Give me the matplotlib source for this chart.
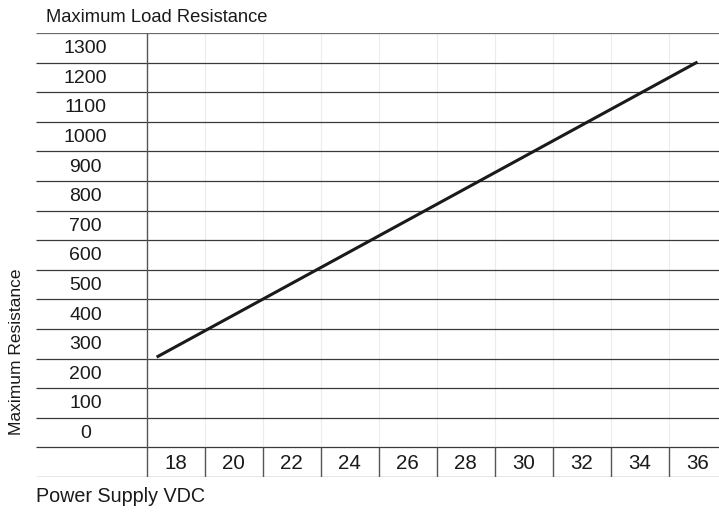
import matplotlib
matplotlib.use("Agg")
import matplotlib.pyplot as plt
import numpy as np

plt.rcParams['font.family'] = ['Liberation Sans', 'DejaVu Sans']

# Data
y_labels = [1300, 1200, 1100, 1000, 900, 800, 700, 600, 500, 400, 300, 200, 100, 0]
x_labels = [18, 20, 22, 24, 26, 28, 30, 32, 34, 36]
voltage = [17.35, 36.0]
resistance = [255, 1252]

W, H = 719, 515
fig = plt.figure(figsize=(W / 100, H / 100), dpi=100)

# axes covering the table area (pixels: x 36..719, y 33..477 from top)
left_px, right_px, top_px, bot_px = 36, 719, 33, 477
ax = fig.add_axes([left_px / W, 1 - bot_px / H, (right_px - left_px) / W, (bot_px - top_px) / H])
ax.set_axis_off()

step_x = 2.0          # volts per column
col_px = 58.0
px_per_v = col_px / step_x
x_sep = 17.0          # separator between label column and first data column
xmin = x_sep - (146.5 - left_px) / px_per_v
xmax = x_sep + (right_px - 146.5) / px_per_v
ymax = y_labels[0] + 50
ymin = y_labels[-1] - 150
ax.set_xlim(xmin, xmax)
ax.set_ylim(ymin, ymax)

line_col = '#3a3a3a'
# horizontal row lines
row_edges = np.arange(ymax, ymin - 1, -100)
for i, yv in enumerate(row_edges):
    c = '#6a6a6a' if i == 0 else line_col
    ax.hlines(yv, xmin, xmax, colors=c, lw=0.9, zorder=2)

# main vertical separator
ax.vlines(x_sep, ymin, ymax, colors='#555555', lw=1.0, zorder=2)

# column separators
col_edges = [x + step_x / 2 for x in x_labels[:-1]]
ax.vlines(col_edges, ymin + 100, ymax, colors='#ececec', lw=0.8, zorder=1)
ax.vlines(col_edges, ymin, ymin + 100, colors='#555555', lw=1.0, zorder=2)

# y labels
label_x = x_sep - (146.5 - 85.5) / px_per_v
for v in y_labels:
    ax.text(label_x, v - 3, str(v), ha='center', va='center', fontsize=14, color='#1a1a1a')

# x labels
for v in x_labels:
    ax.text(v, ymin + 50 - 6, str(v), ha='center', va='center', fontsize=14.8, color='#1a1a1a')

# data line
ax.plot(voltage, resistance, color='#1a1a1a', lw=2.2, solid_capstyle='butt', zorder=3)

# titles
fig.text(46.5 / W, 1 - 17 / H, 'Maximum Load Resistance', ha='left', va='center',
         fontsize=13.2, color='#1a1a1a')
fig.text(36.5 / W, 1 - 497 / H, 'Power Supply VDC', ha='left', va='center',
         fontsize=14.2, color='#1a1a1a')
fig.text(17 / W, 1 - 352 / H, 'Maximum Resistance', ha='center', va='center',
         rotation=90, fontsize=12.5, color='#1a1a1a')

fig.savefig('out.png', dpi=100)
